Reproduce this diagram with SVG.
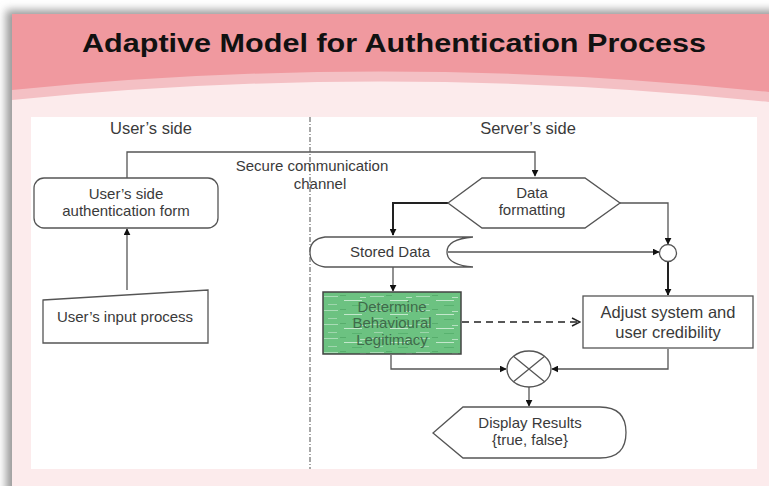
<svg xmlns="http://www.w3.org/2000/svg" width="769" height="486" viewBox="0 0 769 486">
<style>
.t{font-family:"Liberation Sans","Open Sans",Arial,sans-serif;font-size:15px;fill:#3a3a3a;text-anchor:middle}
.big{font-size:16.5px}
.g{fill:#3f6a4a}
.shape{fill:#fff;stroke:#555;stroke-width:1.3}
.ln{fill:none;stroke:#555;stroke-width:1.3}
.thick{fill:none;stroke:#222;stroke-width:2}
</style>
<defs>
<marker id="ah" viewBox="0 0 10 10" refX="9" refY="5" markerWidth="7" markerHeight="7" orient="auto" markerUnits="userSpaceOnUse">
<path d="M0,0 L10,5 L0,10 z" fill="#111"/>
</marker>
<marker id="oh" viewBox="0 0 10 10" refX="9" refY="5" markerWidth="10" markerHeight="10" orient="auto" markerUnits="userSpaceOnUse">
<path d="M1,1 L9,5 L1,9" fill="none" stroke="#222" stroke-width="1.5"/>
</marker>
<pattern id="grn" width="46" height="14" patternUnits="userSpaceOnUse">
<rect width="46" height="14" fill="#6cc281"/>
<rect x="2" y="2" width="14" height="1" fill="#a9dcb6"/>
<rect x="22" y="6" width="18" height="1" fill="#c3e8cc"/>
<rect x="6" y="10" width="9" height="1" fill="#9fd6ad"/>
<rect x="30" y="11" width="10" height="1" fill="#58b26f"/>
<rect x="18" y="1" width="6" height="1" fill="#57ad6c"/>
<rect x="38" y="3" width="6" height="1" fill="#b6e1c1"/>
</pattern>
<filter id="sh" x="-5%" y="-5%" width="110%" height="110%">
<feGaussianBlur stdDeviation="4"/>
</filter>
</defs>

<!-- background & slide -->
<rect width="769" height="486" fill="#ffffff"/>
<rect x="6" y="10" width="780" height="490" fill="#9a9a9a" filter="url(#sh)"/>
<rect x="12" y="14" width="760" height="472" fill="#fcebec"/>
<path d="M12,14 H769 V102 Q390,62 12,100 Z" fill="#f4c0c4"/>
<path d="M12,14 H769 V92 Q390,52 12,90 Z" fill="#f0999f"/>
<text x="394" y="52" font-family="Liberation Sans, Arial, sans-serif" font-weight="bold" font-size="26" fill="#111" text-anchor="middle" textLength="624" lengthAdjust="spacingAndGlyphs">Adaptive Model for Authentication Process</text>

<!-- white panel -->
<rect x="31" y="117" width="726" height="352" fill="#ffffff"/>
<line x1="310" y1="117" x2="310" y2="469" stroke="#777" stroke-width="1.3" stroke-dasharray="5,2,1,2"/>
<text class="t big" x="151" y="134">User’s side</text>
<text class="t big" x="528" y="134">Server’s side</text>
<text class="t" x="312" y="171">Secure communication</text>
<text class="t" x="320" y="189">channel</text>

<!-- connectors -->
<g id="connectors">
<path class="ln" d="M127,178 V152 H535 V176" marker-end="url(#ah)"/>
<path class="ln" d="M127,290 V229" marker-end="url(#ah)"/>
<path class="thick" d="M448,203 H393 V235" marker-end="url(#ah)"/>
<path class="ln" d="M620,203 H668 V244" marker-end="url(#ah)"/>
<path class="ln" d="M448,252 H659" marker-end="url(#ah)"/>
<path class="thick" d="M668,262 V295" marker-end="url(#ah)"/>
<path class="ln" d="M393,267 V291" marker-end="url(#ah)"/>
<path d="M462,322 H580" fill="none" stroke="#222" stroke-width="1.6" stroke-dasharray="7,5" marker-end="url(#oh)"/>
<path class="ln" d="M391,355 V369 H506" marker-end="url(#ah)"/>
<path class="ln" d="M668,349 V369 H552" marker-end="url(#ah)"/>
<path class="ln" d="M529,387 V406" marker-end="url(#ah)"/>
</g>

<g id="user-form">
<rect class="shape" x="34" y="178" width="184" height="50" rx="10"/>
<text class="t" x="126" y="199">User’s side</text>
<text class="t" x="126" y="216">authentication form</text>
</g>

<g id="user-input">
<path class="shape" d="M43,300 L208,290 V343 H43 Z"/>
<text class="t" x="125" y="322">User’s input process</text>
</g>

<g id="data-formatting">
<path class="shape" d="M448,203 L482,178 H585 L620,203 L585,228 H482 Z"/>
<text class="t" x="532" y="198">Data</text>
<text class="t" x="532" y="215">formatting</text>
</g>

<g id="stored-data">
<path class="shape" d="M325,237 H473 Q447,239 447,252 Q447,265 473,267 H325 Q310,265 310,252 Q310,239 325,237 Z"/>
<text class="t" x="390" y="257">Stored Data</text>
</g>

<g id="junction">
<circle class="shape" cx="668" cy="253" r="8.5"/>
</g>

<g id="determine">
<rect x="323" y="292" width="138" height="62" fill="url(#grn)" stroke="#444" stroke-width="1.5"/>
<text class="t g" x="392" y="312">Determine</text>
<text class="t g" x="392" y="328">Behavioural</text>
<text class="t g" x="392" y="345">Legitimacy</text>
</g>

<g id="adjust">
<rect class="shape" x="583" y="296" width="170" height="52"/>
<text class="t big" x="668" y="318">Adjust system and</text>
<text class="t big" x="668" y="338">user credibility</text>
</g>

<g id="or-gate">
<ellipse class="shape" cx="529" cy="369" rx="22" ry="18"/>
<path class="ln" d="M513.4,356.3 L544.6,381.7 M544.6,356.3 L513.4,381.7"/>
</g>

<g id="display">
<path class="shape" d="M433,433 L463,407 H600 Q626,407 626,432.5 Q626,458 600,458 H463 Z"/>
<text class="t" x="530" y="428">Display Results</text>
<text class="t" x="530" y="445">{true, false}</text>
</g>
</svg>
